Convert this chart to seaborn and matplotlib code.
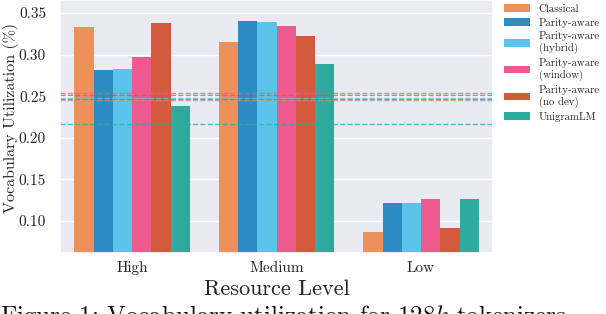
import matplotlib
matplotlib.use("Agg")
import matplotlib.pyplot as plt
import seaborn as sns
import pandas as pd
import numpy as np

levels = ["High", "Medium", "Low"]
tokenizers = ["Classical", "Parity-aware", "Parity-aware\n(hybrid)",
              "Parity-aware\n(window)", "Parity-aware\n(no dev)", "UnigramLM"]
colors = ["#EE905A", "#2E8CC4", "#5AC4EC", "#EE5A8E", "#D35A3D", "#2EAA9E"]

classical = [0.333, 0.315, 0.087]
parity = [0.281, 0.340, 0.122]
parity_hybrid = [0.283, 0.339, 0.122]
parity_window = [0.297, 0.335, 0.127]
parity_nodev = [0.338, 0.322, 0.092]
unigram = [0.238, 0.289, 0.126]

# average utilization per tokenizer (dashed lines)
means = [0.245, 0.247, 0.248, 0.254, 0.251, 0.217]

series = [classical, parity, parity_hybrid, parity_window, parity_nodev, unigram]
rows = []
for name, vals in zip(tokenizers, series):
    for lvl, v in zip(levels, vals):
        rows.append({"Resource Level": lvl, "Tokenizer": name, "util": v})
df = pd.DataFrame(rows)

sns.set_theme(style="darkgrid")
plt.rcParams["font.family"] = ["cmr10", "DejaVu Serif"]
plt.rcParams["mathtext.fontset"] = "cm"
plt.rcParams["axes.formatter.use_mathtext"] = True

fig = plt.figure(figsize=(6.06, 3.14), dpi=100)
ax = fig.add_axes([0.099, 0.194, 0.715, 0.806])

sns.barplot(data=df, x="Resource Level", y="util", hue="Tokenizer",
            hue_order=tokenizers, palette=colors, order=levels,
            saturation=1, width=0.8, linewidth=0, ax=ax)

for m, c in zip(means, colors):
    ax.axhline(m, color=c, linestyle="--", linewidth=1, alpha=0.75, zorder=1)

ax.set_ylim(0.0614, 0.3657)
ax.set_yticks([0.10, 0.15, 0.20, 0.25, 0.30, 0.35])
ax.set_yticklabels(["0.10", "0.15", "0.20", "0.25", "0.30", "0.35"])
ax.tick_params(axis="y", labelsize=11, colors="#222222", pad=4)
ax.tick_params(axis="x", labelsize=11, colors="#222222", pad=0)
ax.set_xlabel("Resource Level", fontsize=16, color="#222222", labelpad=3)
ax.set_ylabel("Vocabulary Utilization (%)", fontsize=11.5, color="#222222")
ax.yaxis.set_label_coords(-0.094, 0.535)

ax.legend(loc="upper left", bbox_to_anchor=(1.015, 1.0), frameon=False,
          fontsize=7.8, handlelength=2.4, handleheight=0.7, labelspacing=0.35,
          borderaxespad=0.0, title=None)

fig.text(0.0, 0.035, "Figure 1: Vocabulary utilization for $128k$ tokenizers",
         fontsize=18, va="top", ha="left", color="#111111")

fig.savefig("out.png", dpi=100)
